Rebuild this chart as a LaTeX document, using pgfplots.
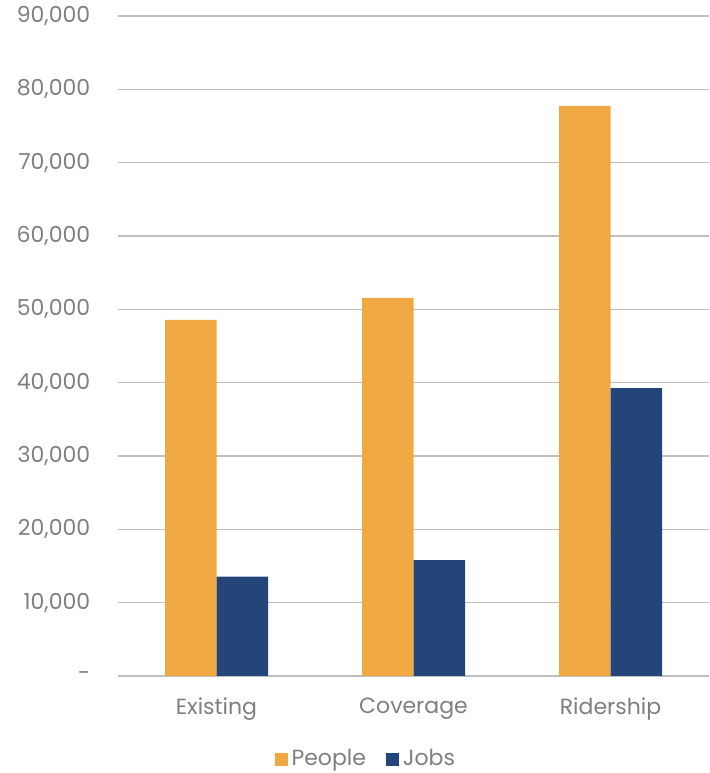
\documentclass[border=0pt]{standalone}
\usepackage{fontspec}
\setmainfont{Poppins}
\usepackage{pgfplots}
\pgfplotsset{compat=1.18}
\definecolor{people}{RGB}{240,168,66}
\definecolor{jobs}{RGB}{35,69,122}
\definecolor{txt}{RGB}{127,127,127}
\definecolor{grid}{RGB}{224,224,224}
\begin{document}
\fontsize{11}{13}\selectfont
\begin{tikzpicture}
\begin{axis}[
  scale only axis,
  width=295.5pt, height=330pt,
  ybar=0pt, bar width=25.75pt,
  xmin=-0.5, xmax=2.5,
  ymin=0, ymax=90000,
  scaled y ticks=false,
  xtick={0,1,2},
  xticklabels={Existing,Coverage,Ridership},
  ytick={0,10000,20000,30000,40000,50000,60000,70000,80000,90000},
  yticklabels={{-},{10,000},{20,000},{30,000},{40,000},{50,000},{60,000},{70,000},{80,000},{90,000}},
  axis line style={draw=none},
  major tick length=0pt,
  xmajorgrids=false,
  ymajorgrids=true,
  major grid style={grid, line width=0.7pt},
  tick label style={text=txt, font=\fontsize{11}{13}\selectfont},
  yticklabel style={xshift=-10pt, inner ysep=0pt},
  xticklabel style={yshift=-7pt},
  legend style={draw=none, at={(0.421,-0.126)}, anchor=center, legend columns=2,
    font=\fontsize{11}{13}\selectfont, text=txt,
    /tikz/every even column/.append style={column sep=8pt}},
  legend image code/.code={\fill[#1] (0pt,-3.25pt) rectangle (6.5pt,3.25pt);},
]
\addplot[fill=people, draw=none] coordinates {(0,48550) (1,51550) (2,77730)};
\addplot[fill=jobs, draw=none] coordinates {(0,13550) (1,15800) (2,39250)};
\legend{People, Jobs}
\end{axis}
\pgfresetboundingbox
\path ([xshift=-59pt,yshift=-48.5pt]current axis.south west) rectangle ([yshift=8pt]current axis.north east);
\end{tikzpicture}
\end{document}
